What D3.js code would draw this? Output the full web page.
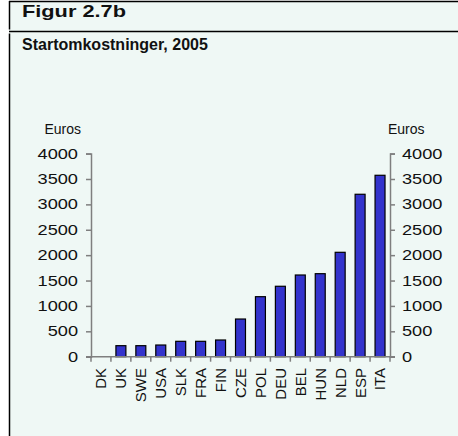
<!DOCTYPE html>
<html><head><meta charset="utf-8">
<script src="https://cdn.jsdelivr.net/npm/d3@7"></script>
<style>
html,body{margin:0;padding:0;background:#fff;}
svg{display:block;font-family:Arial,"Liberation Sans",sans-serif;}
</style></head>
<body>
<svg id="chart" width="458" height="436"></svg>
<script>
const categories = ["DK","UK","SWE","USA","SLK","FRA","FIN","CZE","POL","DEU","BEL","HUN","NLD","ESP","ITA"];
const values = [0,217,217,230,303,303,329,742,1182,1387,1609,1635,2056,3199,3573];
const yTicks = [0,500,1000,1500,2000,2500,3000,3500,4000];
const title = "Figur 2.7b";
const subtitle = "Startomkostninger, 2005";
const unitLabel = "Euros";

(function(){
const svg = d3.select("#chart");
const bg = "#eff8f5";

svg.append("rect").attr("x",9).attr("y",1.5).attr("width",449).attr("height",434.5).attr("fill",bg);
svg.append("line").attr("x1",9).attr("x2",458).attr("y1",1.5).attr("y2",1.5).attr("stroke","#000").attr("stroke-width",1.5);
svg.append("line").attr("x1",9).attr("x2",458).attr("y1",31.5).attr("y2",31.5).attr("stroke","#000").attr("stroke-width",1.5);
svg.append("line").attr("x1",9.5).attr("x2",9.5).attr("y1",1).attr("y2",29.5).attr("stroke","#000").attr("stroke-width",1.5);
svg.append("line").attr("x1",9.5).attr("x2",9.5).attr("y1",33.5).attr("y2",436).attr("stroke","#000").attr("stroke-width",1.5);

svg.append("g").attr("transform","translate(22,17) scale(1.28,1)")
  .append("text").attr("font-size",17).attr("font-weight","bold").attr("fill","#111").text(title);
svg.append("text").attr("x",22).attr("y",50).attr("font-size",16).attr("font-weight","bold").attr("fill","#111").text(subtitle);

const pl = 91, pr = 390, pt = 153.6, pb = 356.7;
const x = d3.scaleBand().domain(categories).range([pl,pr]).paddingInner(0.5).paddingOuter(0.25);
const xb = d3.scaleBand().domain(categories).range([pl,pr]);
const y = d3.scaleLinear().domain([0,4000]).range([pb,pt]);

const axisColor = "#7f7f7f";

svg.append("g").selectAll("rect").data(values).join("rect")
  .attr("x",(d,i)=>x(categories[i]))
  .attr("width",x.bandwidth())
  .attr("y",d=>y(d))
  .attr("height",d=>pb-y(d))
  .attr("fill",(d)=>d>0?"#3333cc":"none")
  .attr("stroke",(d)=>d>0?"#000":"none")
  .attr("stroke-width",1.2);

function styleAxis(g){
  g.select(".domain").attr("stroke",axisColor).attr("stroke-width",1.5);
  g.selectAll(".tick line").attr("stroke",axisColor).attr("stroke-width",1.5);
}

const gl = svg.append("g").attr("transform",`translate(${pl},0)`)
  .call(d3.axisLeft(y).tickValues(yTicks).tickSize(5).tickSizeOuter(5).tickFormat(""));
styleAxis(gl);
const gr = svg.append("g").attr("transform",`translate(${pr},0)`)
  .call(d3.axisRight(y).tickValues(yTicks).tickSize(5).tickSizeOuter(5).tickFormat(""));
styleAxis(gr);

const sx = 1.3;
yTicks.forEach(v=>{
  svg.append("g").attr("transform",`translate(78,${y(v)+5}) scale(${sx},1)`)
    .append("text").attr("text-anchor","end").attr("font-size",14).attr("fill","#111").text(v);
  svg.append("g").attr("transform",`translate(402,${y(v)+5}) scale(${sx},1)`)
    .append("text").attr("text-anchor","start").attr("font-size",14).attr("fill","#111").text(v);
});

svg.append("text").attr("x",81).attr("y",134).attr("text-anchor","end").attr("font-size",14).attr("fill","#111").text(unitLabel);
svg.append("text").attr("x",388).attr("y",134).attr("text-anchor","start").attr("font-size",14).attr("fill","#111").text(unitLabel);

svg.append("line").attr("x1",pl-5).attr("x2",pr+5).attr("y1",pb).attr("y2",pb).attr("stroke",axisColor).attr("stroke-width",1.5);
const bounds = categories.map(c=>xb(c)).concat([pr]);
svg.append("g").selectAll("line").data(bounds).join("line")
  .attr("x1",d=>d).attr("x2",d=>d).attr("y1",pb).attr("y2",pb+5)
  .attr("stroke",axisColor).attr("stroke-width",1.5);

svg.append("g").selectAll("text").data(categories).join("text")
  .attr("transform",d=>`translate(${xb(d)+xb.bandwidth()/2},368) rotate(-90)`)
  .attr("text-anchor","end").attr("dy","0.36em").attr("font-size",15).attr("fill","#111")
  .text(d=>d);
})();
</script>
</body></html>
